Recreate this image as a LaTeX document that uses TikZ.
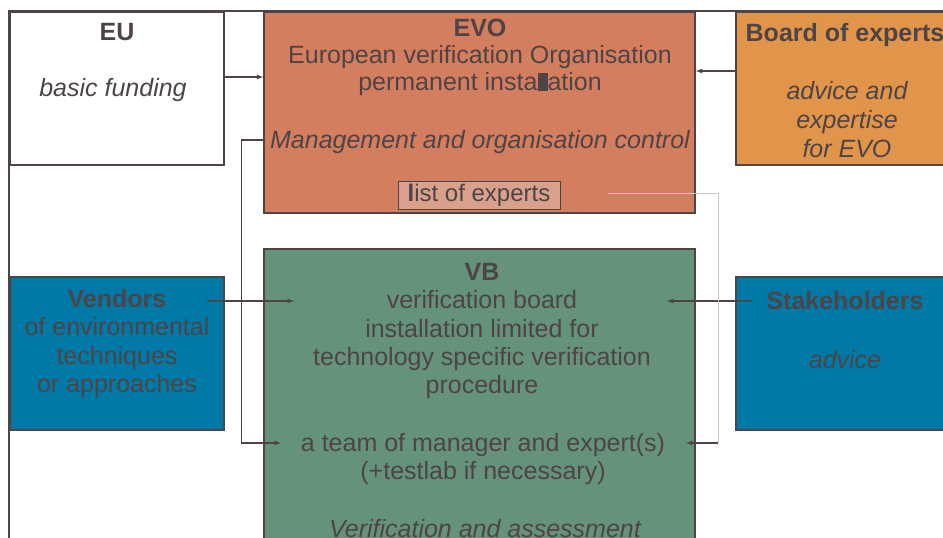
\documentclass[tikz,border=0pt]{standalone}
\usepackage{fontspec}
\setmainfont{Liberation Sans}
\usetikzlibrary{positioning}

\definecolor{ink}{HTML}{4E4446}
\definecolor{evofill}{HTML}{D27E5F}
\definecolor{listfill}{HTML}{D9A08C}
\definecolor{boardfill}{HTML}{E0954A}
\definecolor{bluefill}{HTML}{0079A6}
\definecolor{vbfill}{HTML}{65927B}
\definecolor{thinline}{HTML}{C9C6C6}

\tikzset{
  block/.style={draw=ink,line width=1.4pt,inner sep=0pt},
  txt/.style={text=ink,align=center,font=\fontsize{25}{28.3}\selectfont},
  head/.style={txt,font=\fontsize{25}{28.3}\selectfont\bfseries},
  note/.style={txt,font=\fontsize{25}{29}\selectfont\itshape},
  link/.style={->,draw=ink,line width=1.2pt}
}

\begin{document}
\begin{tikzpicture}[>=latex,x=1pt,y=-1pt]

\useasboundingbox (0,0) rectangle (943,538);
\clip (0,0) rectangle (943,538);

% outer frame, runs off the page
\draw[ink,line width=1.2pt] (9,600) -- (9,11) -- (990,11);

% boxes
\node[block,fill=white,minimum width=214,minimum height=153] (eu) at (117,88.5) {};
\node[block,fill=evofill,minimum width=431,minimum height=201] (evo) at (479.5,112.5) {};
\node[block,fill=boardfill,minimum width=219,minimum height=153] (board) at (845.5,88.5) {};
\node[block,fill=bluefill,minimum width=214,minimum height=153] (vendors) at (117,353.5) {};
\node[block,fill=vbfill,minimum width=431,minimum height=331] (vb) at (479.5,414.5) {};
\node[block,fill=bluefill,minimum width=219,minimum height=153] (stake) at (845.5,353.5) {};

% EU
\node[head] (eutitle) at (117,32) {EU};
\node[note] (funding) at (113,90) {basic funding};

% EVO
\node[txt,font=\fontsize{25}{27}\selectfont] (evotext) at (480,57)
  {\textbf{EVO}\\European verification Organisation\\
  permanent insta\rule[-0.5pt]{0.4em}{0.72em}ation};
\node[note] (mgmt) at (480,142) {Management and organisation control};
\node[block,fill=listfill,line width=1pt,minimum width=162,minimum height=28,
  txt,font=\fontsize{24}{26}\selectfont] (list) at (479,195) {\textbf{l}ist of experts};

% board of experts
\node[head] (boardtitle) at (845,35) {Board of experts};
\node[note] (boardtext) at (847,120) {advice and\\expertise\\for EVO};

% vendors
\node[txt] (vendtext) at (117,343.5) {\textbf{Vendors}\\of environmental\\techniques\\or approaches};

% stakeholders
\node[head] (staketitle) at (845,301) {Stakeholders};
\node[note] (stakenote) at (845,360) {advice};

% VB
\node[txt] (vbtext) at (482,331) {\textbf{VB}\\verification board\\installation limited for\\
  technology specific verification\\procedure};
\node[txt] (team) at (483,445) {a team of manager and expert(s)};
\node[txt] (testlab) at (483,473) {(+testlab if necessary)};
\node[note] (assess) at (485,529) {Verification and assessment};

% connectors
\coordinate (fundin) at (evo.west |- 0,77);
\coordinate (advin) at (evo.east |- 0,71);
\coordinate (teamin) at (281,443);
\coordinate (vendout) at (207,301);
\coordinate (vendin) at (294,301);
\coordinate (stakeout) at (752,301);
\coordinate (stakein) at (667,301);
\coordinate (listout) at (608,193);
\coordinate (listturn) at (718,443);
\coordinate (listin) at (686,443);

\draw[link] (eu.east |- fundin) -- (fundin);
\draw[link] (board.west |- advin) -- (advin);
\draw[link] (evo.west |- 0,140) -- ++(-22,0) |- (teamin);
\draw[link] (vendout) -- (vendin);
\draw[link] (stakeout) -- (stakein);
\draw[thinline,line width=1pt] (listout) -| (listturn);
\draw[link] (listturn) -- (listin);

\end{tikzpicture}
\end{document}
